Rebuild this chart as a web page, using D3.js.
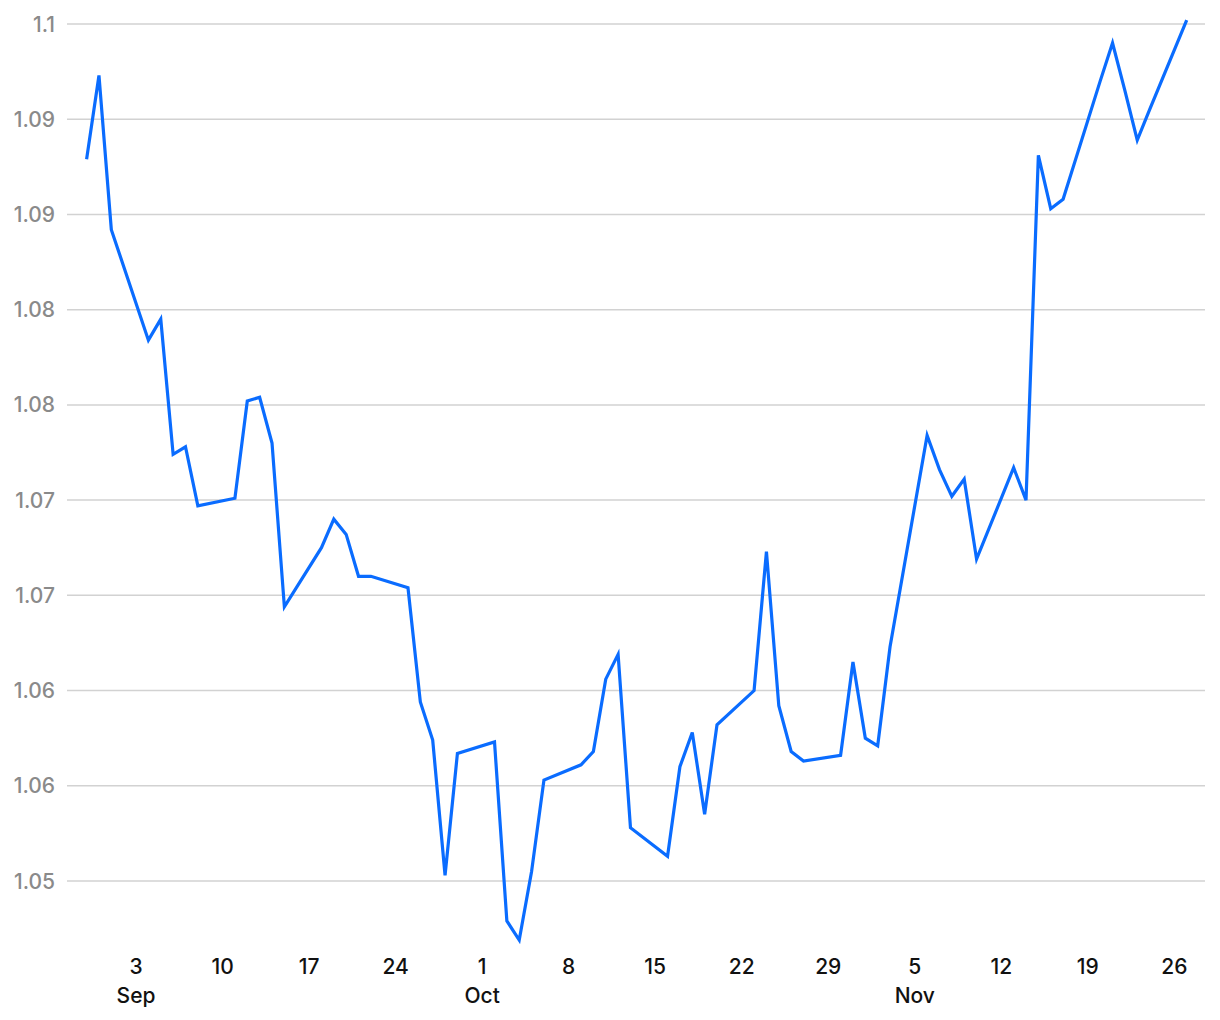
<!DOCTYPE html>
<html>
<head>
<meta charset="utf-8">
<script src="https://cdn.jsdelivr.net/npm/d3@7"></script>
<style>
  body { margin: 0; background: #fff; }
  svg { display: block; font-family: Inter, "Noto Sans", sans-serif; }
</style>
</head>
<body>
<svg id="chart" width="1220" height="1020"></svg>
<script>
// trading days, Aug 30 2023 .. Nov 27 2023
const dates = [
  "2023-08-30", "2023-08-31", "2023-09-01",
  "2023-09-04", "2023-09-05", "2023-09-06", "2023-09-07", "2023-09-08",
  "2023-09-11", "2023-09-12", "2023-09-13", "2023-09-14", "2023-09-15",
  "2023-09-18", "2023-09-19", "2023-09-20", "2023-09-21", "2023-09-22",
  "2023-09-25", "2023-09-26", "2023-09-27", "2023-09-28", "2023-09-29",
  "2023-10-02", "2023-10-03", "2023-10-04", "2023-10-05", "2023-10-06",
  "2023-10-09", "2023-10-10", "2023-10-11", "2023-10-12", "2023-10-13",
  "2023-10-16", "2023-10-17", "2023-10-18", "2023-10-19", "2023-10-20",
  "2023-10-23", "2023-10-24", "2023-10-25", "2023-10-26", "2023-10-27",
  "2023-10-30", "2023-10-31", "2023-11-01", "2023-11-02", "2023-11-03",
  "2023-11-06", "2023-11-07", "2023-11-08", "2023-11-09", "2023-11-10",
  "2023-11-13", "2023-11-14", "2023-11-15", "2023-11-16", "2023-11-17",
  "2023-11-20", "2023-11-21", "2023-11-22", "2023-11-23", "2023-11-24",
  "2023-11-27"
];

const rates = [
  1.0929, 1.0973, 1.0892,
  1.0834, 1.0845, 1.0774, 1.0778, 1.0747,
  1.0751, 1.0802, 1.0804, 1.0780, 1.0694,
  1.0725, 1.0740, 1.0732, 1.0710, 1.0710,
  1.0704, 1.0644, 1.0624, 1.0553, 1.0617,
  1.0623, 1.0529, 1.0519, 1.0555, 1.0603,
  1.0611, 1.0618, 1.0656, 1.0669, 1.0578,
  1.0563, 1.0610, 1.0628, 1.0585, 1.0632,
  1.0650, 1.0723, 1.0642, 1.0618, 1.0613,
  1.0616, 1.0665, 1.0625, 1.0621, 1.0673,
  1.0784, 1.0766, 1.0752, 1.0761, 1.0719,
  1.0767, 1.0750, 1.0931, 1.0903, 1.0908,
  1.0970, 1.0990, 1.0965, 1.0939, 1.0955,
  1.1002
];

const yTicks = [1.055, 1.06, 1.065, 1.07, 1.075, 1.08, 1.085, 1.09, 1.095, 1.1];
const xTicks = ["2023-09-03", "2023-09-10", "2023-09-17", "2023-09-24", "2023-10-01",
  "2023-10-08", "2023-10-15", "2023-10-22", "2023-10-29", "2023-11-05",
  "2023-11-12", "2023-11-19", "2023-11-26"];

const parse = d3.utcParse("%Y-%m-%d");
const data = dates.map((d, i) => ({ date: parse(d), value: rates[i] }));

const svg = d3.select("#chart");

const x = d3.scaleUtc()
  .domain(d3.extent(data, d => d.date))
  .range([86.6, 1186.7]);

const y = d3.scaleLinear()
  .domain([1.055, 1.1])
  .range([881, 24]);

// grid + y labels
const fmt = d3.format(".2~f");
const yAxis = svg.append("g").attr("class", "y-axis");
yAxis.selectAll("line")
  .data(yTicks)
  .join("line")
  .attr("x1", 67).attr("x2", 1205)
  .attr("y1", d => y(d)).attr("y2", d => y(d))
  .attr("stroke", "#d2d2d2")
  .attr("stroke-width", 1.5);
yAxis.selectAll("text")
  .data(yTicks)
  .join("text")
  .attr("x", 55)
  .attr("y", d => y(d))
  .attr("dy", "0.36em")
  .attr("text-anchor", "end")
  .attr("fill", "#8a8a8a")
  .attr("font-size", 21)
  .attr("font-weight", 500)
  .text(d => fmt(d));

// x labels: day on first line, month under the first tick of each month
const xAxis = svg.append("g").attr("class", "x-axis");
const tickDates = xTicks.map(parse);
xAxis.selectAll("text.day")
  .data(tickDates)
  .join("text")
  .attr("class", "day")
  .attr("x", d => x(d))
  .attr("y", 974)
  .attr("text-anchor", "middle")
  .attr("fill", "#111")
  .attr("font-size", 21)
  .attr("font-weight", 500)
  .text(d => d3.utcFormat("%-d")(d));

xAxis.selectAll("text.month")
  .data(tickDates.filter((d, i) => i === 0 || d.getUTCMonth() !== tickDates[i - 1].getUTCMonth()))
  .join("text")
  .attr("class", "month")
  .attr("x", d => x(d))
  .attr("y", 1003)
  .attr("text-anchor", "middle")
  .attr("fill", "#111")
  .attr("font-size", 21)
  .attr("font-weight", 500)
  .text(d => d3.utcFormat("%b")(d));

// the line
const line = d3.line()
  .x(d => x(d.date))
  .y(d => y(d.value));

svg.append("path")
  .datum(data)
  .attr("fill", "none")
  .attr("stroke", "#0a6cff")
  .attr("stroke-width", 3.2)
  .attr("d", line);
</script>
</body>
</html>
